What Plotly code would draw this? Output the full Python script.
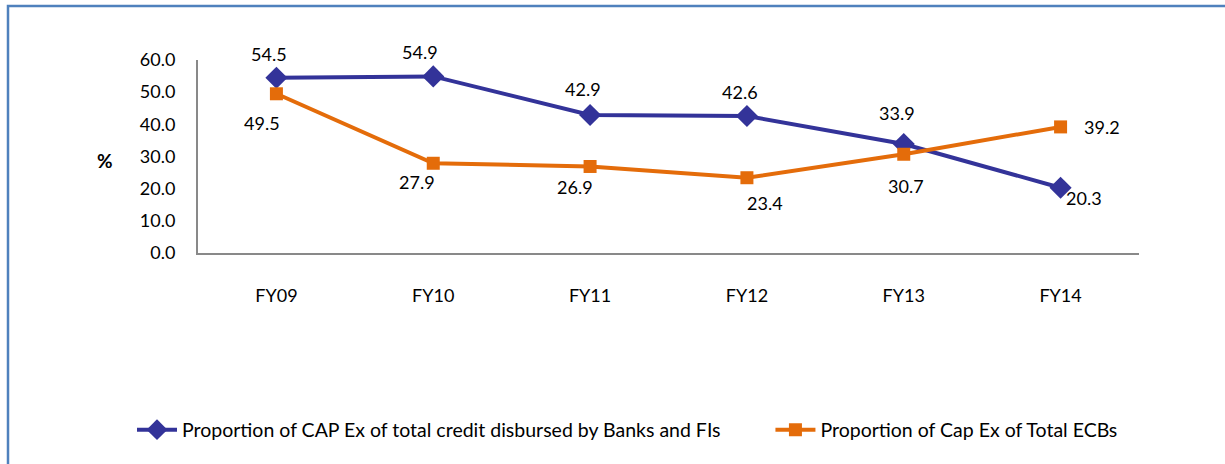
import plotly.graph_objects as go

categories = ["FY09", "FY10", "FY11", "FY12", "FY13", "FY14"]
banks_fis = [54.5, 54.9, 42.9, 42.6, 33.9, 20.3]
total_ecbs = [49.5, 27.9, 26.9, 23.4, 30.7, 39.2]
y_ticks = [0, 10, 20, 30, 40, 50, 60]

name_banks = "Proportion of CAP Ex of total credit disbursed by Banks and FIs"
name_ecbs = "Proportion of Cap Ex of Total ECBs"

BLUE = "#333399"
ORANGE = "#E46C0A"
FONT = "Lato"
LEGEND_PAD = "\u00a0" * 9  # extra gap between legend entries

# label offsets (pixels) - styling for data labels
banks_shift = [(-7, 24), (-13, 24), (-7, 26), (-7, 24), (-7, 31), (23, -10)]
ecbs_shift = [(-14, -29), (-16, -19), (-15, -21), (18, -25), (2, -32), (41, 0)]

fig = go.Figure()
fig.add_trace(go.Scatter(
    x=categories, y=banks_fis, name=name_banks + LEGEND_PAD, mode="lines+markers",
    line=dict(color=BLUE, width=4),
    marker=dict(symbol="diamond", size=17, color=BLUE),
))
fig.add_trace(go.Scatter(
    x=categories, y=total_ecbs, name=name_ecbs, mode="lines+markers",
    line=dict(color=ORANGE, width=4),
    marker=dict(symbol="square", size=13, color=ORANGE),
))

annotations = []
for c, v, (dx, dy) in zip(categories, banks_fis, banks_shift):
    annotations.append(dict(x=c, y=v, text=f"{v:.1f}", showarrow=False,
                            xshift=dx, yshift=dy,
                            font=dict(family=FONT, size=18, color="#000")))
for c, v, (dx, dy) in zip(categories, total_ecbs, ecbs_shift):
    annotations.append(dict(x=c, y=v, text=f"{v:.1f}", showarrow=False,
                            xshift=dx, yshift=dy,
                            font=dict(family=FONT, size=18, color="#000")))

W, H = 1225, 464
L, R, T, B = 198, 86, 60, 211
pw, ph = W - L - R, H - T - B

def px2x(px):
    return (px - L) / pw

def py2y(py):
    return (H - B - py) / ph

annotations.append(dict(xref="paper", yref="paper", x=px2x(95), y=py2y(160),
                        text="<b>%</b>", showarrow=False,
                        font=dict(family=FONT, size=19, color="#000")))

fig.update_layout(
    width=W, height=H,
    margin=dict(l=L, r=R, t=T, b=B),
    paper_bgcolor="white", plot_bgcolor="white",
    font=dict(family=FONT, size=18, color="#000"),
    showlegend=True,
    legend=dict(orientation="h", xanchor="left", yanchor="middle",
                x=px2x(132), y=py2y(430),
                font=dict(family=FONT, size=19.5, color="#000"),
                itemwidth=40, tracegroupgap=0),
    annotations=annotations,
    shapes=[dict(type="rect", xref="paper", yref="paper",
                 x0=px2x(8), x1=px2x(W + 10), y0=py2y(H + 10), y1=py2y(6),
                 line=dict(color="#4F81BD", width=2.5), fillcolor="rgba(0,0,0,0)",
                 layer="below")],
    xaxis=dict(type="category", showgrid=False, showline=True, linecolor="#898989",
               linewidth=2, ticks="outside", ticklen=25, tickcolor="rgba(0,0,0,0)",
               range=[-0.5, 5.5], zeroline=False),
    yaxis=dict(range=[0, 60], tickvals=y_ticks, ticktext=[f"{t:.1f}" for t in y_ticks],
               showgrid=False, showline=True, linecolor="#898989", linewidth=2,
               ticks="outside", ticklen=17, tickcolor="rgba(0,0,0,0)", zeroline=False),
)

fig.write_html("out.html", config={"displayModeBar": False},
               post_script="document.body.style.margin='0';document.body.style.overflow='hidden';")
